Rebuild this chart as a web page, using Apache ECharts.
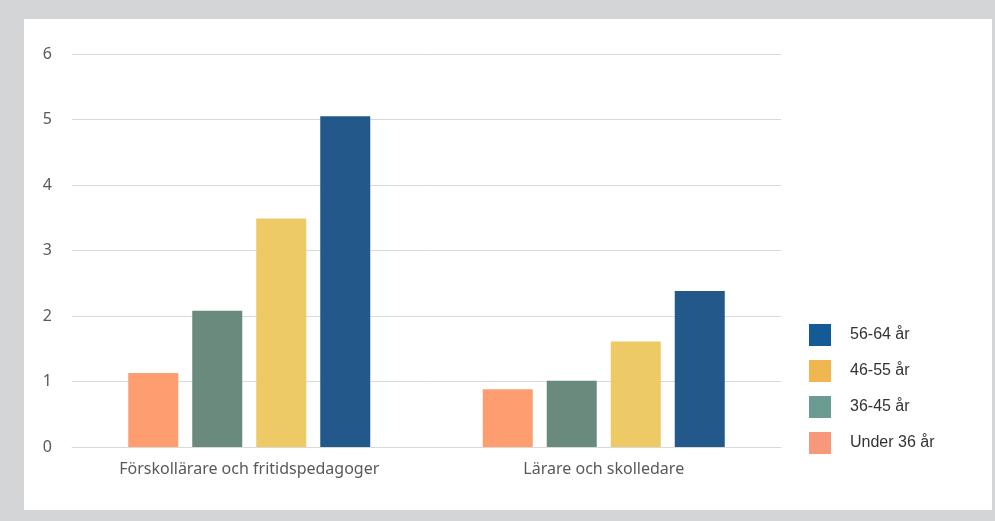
<!DOCTYPE html>
<html>
<head>
<meta charset="utf-8">
<script src="https://cdn.jsdelivr.net/npm/echarts@6/dist/echarts.min.js"></script>
<style>
  html, body { margin: 0; padding: 0; width: 995px; height: 521px; background: #d4d5d7; overflow: hidden; }
  #main { position: absolute; left: 24px; top: 19px; width: 968px; height: 491px; background: #fff; }
</style>
</head>
<body>
<div id="main"></div>
<script>
// categories and values
var categories = ['Förskollärare och fritidspedagoger', 'Lärare och skolledare'];
var under36 = [1.13, 0.88];
var age36to45 = [2.08, 1.01];
var age46to55 = [3.49, 1.61];
var age56to64 = [5.05, 2.38];
var yTicks = [0, 1, 2, 3, 4, 5, 6];

var chart = echarts.init(document.getElementById('main'));

var labelFont = 'Noto Sans';

chart.setOption({
  animation: false,
  grid: {
    left: 48,
    right: 211,
    top: 35,
    bottom: 63
  },
  legend: {
    orient: 'vertical',
    left: 780,
    top: 300,
    itemWidth: 22,
    itemHeight: 22,
    itemGap: 14,
    icon: 'rect',
    textStyle: {
      fontFamily: 'Liberation Sans',
      fontSize: 16,
      color: '#333',
      padding: [0, 0, 0, 14]
    },
    data: [
      { name: '56-64 år', itemStyle: { color: '#135a96' } },
      { name: '46-55 år', itemStyle: { color: '#f0b64f' } },
      { name: '36-45 år', itemStyle: { color: '#6a9c94' } },
      { name: 'Under 36 år', itemStyle: { color: '#f7987a' } }
    ]
  },
  xAxis: {
    type: 'category',
    data: categories,
    axisTick: { show: false },
    axisLine: { lineStyle: { color: '#d9d9d9' } },
    axisLabel: {
      margin: 14,
      fontFamily: labelFont,
      fontSize: 16,
      color: '#595959'
    }
  },
  yAxis: {
    type: 'value',
    min: yTicks[0],
    max: yTicks[yTicks.length - 1],
    interval: 1,
    axisLine: { show: false },
    axisTick: { show: false },
    splitLine: { lineStyle: { color: '#d9d9d9' } },
    axisLabel: {
      margin: 20,
      fontFamily: labelFont,
      fontSize: 16,
      color: '#595959'
    }
  },
  series: [
    {
      name: 'Under 36 år',
      type: 'bar',
      data: under36,
      barWidth: 50,
      barGap: '28%',
      itemStyle: { color: '#fd9d70' }
    },
    {
      name: '36-45 år',
      type: 'bar',
      data: age36to45,
      barWidth: 50,
      barGap: '28%',
      itemStyle: { color: '#6a8a7d' }
    },
    {
      name: '46-55 år',
      type: 'bar',
      data: age46to55,
      barWidth: 50,
      barGap: '28%',
      itemStyle: { color: '#edca65' }
    },
    {
      name: '56-64 år',
      type: 'bar',
      data: age56to64,
      barWidth: 50,
      barGap: '28%',
      itemStyle: { color: '#22588a' }
    }
  ]
});
</script>
</body>
</html>
